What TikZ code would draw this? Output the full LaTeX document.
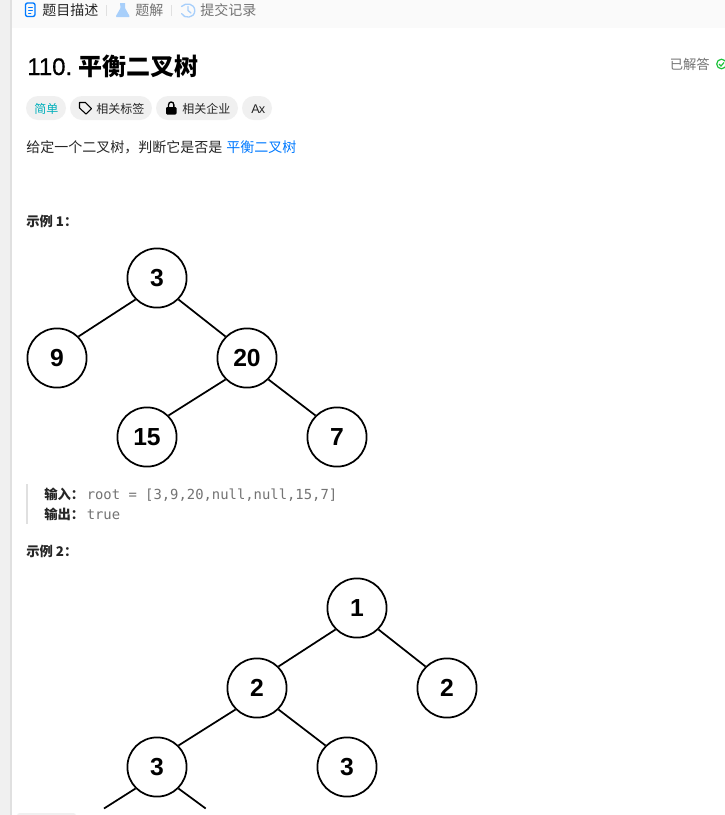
\documentclass[tikz,border=0pt]{standalone}
\usepackage{fontspec}
\setmainfont{Noto Sans CJK SC}
\newfontfamily\codefont{DejaVu Sans Mono}
\newfontfamily\treefont{Liberation Sans}
\newfontfamily\titlefont[FakeBold=0.6]{Liberation Sans}
\definecolor{tabgray}{HTML}{FAFAFA}
\definecolor{sidegray}{HTML}{F0F0F0}
\definecolor{sideline}{HTML}{E0E0E0}
\definecolor{pillgray}{HTML}{F0F0F0}
\definecolor{inkdark}{HTML}{262626}
\definecolor{inkgray}{HTML}{737373}
\definecolor{iconblue}{HTML}{007AFF}
\definecolor{paleblue}{HTML}{A8CFFA}
\definecolor{easyteal}{HTML}{00AFBB}
\definecolor{okgreen}{HTML}{1CC23A}
\tikzset{
  treenode/.style={circle,draw=black,line width=1.3pt,minimum size=44.4pt,inner sep=0pt,
    font=\treefont\fontsize{18.5}{18}\selectfont\bfseries,text=black},
  treeedge/.style={line width=1.3pt,black},
  label/.style={anchor=base west,inner sep=0pt,text=inkdark,font=\fontsize{10.5}{12}\selectfont},
  pill/.style={fill=pillgray,rounded corners=9pt},
  sep/.style={line width=.6pt,sideline},
  icon/.style={line width=1pt,line cap=round,line join=round}
}
\begin{document}
\begin{tikzpicture}[x=0.75pt,y=-0.75pt]
  \useasboundingbox (0,0) rectangle (725,815);
  \fill[white] (0,0) rectangle (725,815);
  % page frame
  \fill[sidegray] (0,0) rectangle (10,815);
  \fill[sideline] (10,0) rectangle (11.5,815);
  \fill[tabgray] (11.5,0) rectangle (725,27.5);
  \fill[sidegray,rounded corners=2pt] (17,813) rectangle (76,818);
  % tabs
  \draw[icon,iconblue,rounded corners=1.5pt] (25.5,3) rectangle (35,16.5);
  \draw[icon,iconblue,line width=.7pt] (28.5,7) -- (32.5,7) (28.5,10) -- (32.5,10) (28.5,13) -- (31,13);
  \node[label] (tabdesc) at (42,15) {题目描述};
  \draw[sep] (106.5,5) -- (106.5,16);
  \fill[paleblue] (120,3) -- (125,3) -- (125,8) -- (129.5,16) -- (129,17) -- (116.5,17) -- (116,16) -- (120.5,8) -- cycle;
  \node[label,text=inkgray] (tabsol) at (135,15) {题解};
  \draw[sep] (171.5,5) -- (171.5,16);
  \draw[icon,paleblue] (181.5,6.5) .. controls (186,2) and (194.5,3.5) .. (194.8,10.5) .. controls (194.8,18.5) and (184,19) .. (181.5,13.5);
  \draw[icon,paleblue] (188,6.5) -- (188,10.5) -- (191,13);
  \node[label,text=inkgray] (tabsub) at (200,15) {提交记录};
  % title
  \node[label,text=black,font=\titlefont\fontsize{18}{20}\selectfont] (titlenum) at (27,75) {110.};
  \node[label,text=black,font=\fontsize{18}{20}\selectfont\bfseries] (titlename) at (78,75) {平衡二叉树};
  \node[label,text=inkgray,font=\fontsize{10}{12}\selectfont] (solved) at (669.5,69) {已解答};
  \draw[okgreen,line width=.9pt] (721.5,64) circle (4.8);
  \draw[okgreen,line width=.9pt] (719,64) -- (721,66) -- (724,62.5);
  % tags
  \fill[pill] (26,96) rectangle (66,120);
  \node[label,text=easyteal,font=\fontsize{9}{12}\selectfont] (tageasy) at (34,113) {简单};
  \fill[pill] (70,96) rectangle (152,120);
  \draw[icon,black,line width=.8pt] (79.5,102.5) -- (85.5,102.5) -- (91.5,108.5) -- (86,114) -- (79.5,108) -- cycle;
  \node[label,font=\fontsize{9}{12}\selectfont] (tagtopic) at (96,113) {相关标签};
  \fill[pill] (156,96) rectangle (238,120);
  \fill[black,rounded corners=.8pt] (166,107) rectangle (176.5,114.5);
  \draw[black,line width=1pt] (168.5,107) -- (168.5,105) .. controls (168.5,101) and (173.9,101) .. (173.9,105) -- (173.9,107);
  \node[label,font=\fontsize{9}{12}\selectfont] (tagcorp) at (182,113) {相关企业};
  \fill[pill] (242,96) rectangle (272,120);
  \node[label,font=\treefont\fontsize{9.5}{12}\selectfont] (tagfont) at (251,113) {A\kern-.6pt x};
  % statement
  \node[label] (stmt) at (26,152) {给定一个二叉树，判断它是否是};
  \node[label,text=iconblue] (stmtlink) at (226,152) {平衡二叉树};
  % example 1
  \node[label,font=\fontsize{10}{12}\selectfont\bfseries] (exone) at (26,226) {示例 1：};
  \draw
    (157,278) node[treenode] (a3) {3}
    (57,358) node[treenode] (a9) {9}
    (247,358) node[treenode] (a20) {20}
    (147,437) node[treenode] (a15) {15}
    (337,437) node[treenode] (a7) {7};
  \begin{scope}[treeedge]
    \draw (a3.south west) to (a9.north east);
    \draw (a3.south east) to (a20.north west);
    \draw (a20.south west) to (a15.north east);
    \draw (a20.south east) to (a7.north west);
  \end{scope}
  \fill[sideline] (26,484) rectangle (28,524);
  \node[label,font=\fontsize{10}{12}\selectfont\bfseries] (inone) at (44,499) {输入：};
  \node[label,text=inkgray,font=\codefont\fontsize{10.4}{12}\selectfont] (inonetxt) at (86.5,499) {root = [3,9,20,null,null,15,7]};
  \node[label,font=\fontsize{10}{12}\selectfont\bfseries] (outone) at (44,519) {输出：};
  \node[label,text=inkgray,font=\codefont\fontsize{10.4}{12}\selectfont] (outonetxt) at (86.5,519) {true};
  % example 2
  \node[label,font=\fontsize{10}{12}\selectfont\bfseries] (extwo) at (26,556) {示例 2：};
  \draw
    (357,608) node[treenode] (b1) {1}
    (257,688) node[treenode] (b2) {2}
    (447,688) node[treenode] (b2r) {2}
    (157,767) node[treenode] (b3) {3}
    (347,767) node[treenode] (b3r) {3};
  \coordinate (cutl) at (104,808.5);
  \coordinate (cutr) at (205.7,808.5);
  \begin{scope}[treeedge]
    \draw (b1.south west) to (b2.north east);
    \draw (b1.south east) to (b2r.north west);
    \draw (b2.south west) to (b3.north east);
    \draw (b2.south east) to (b3r.north west);
    \draw (b3.south west) to (cutl);
    \draw (b3.south east) to (cutr);
  \end{scope}
\end{tikzpicture}
\end{document}
